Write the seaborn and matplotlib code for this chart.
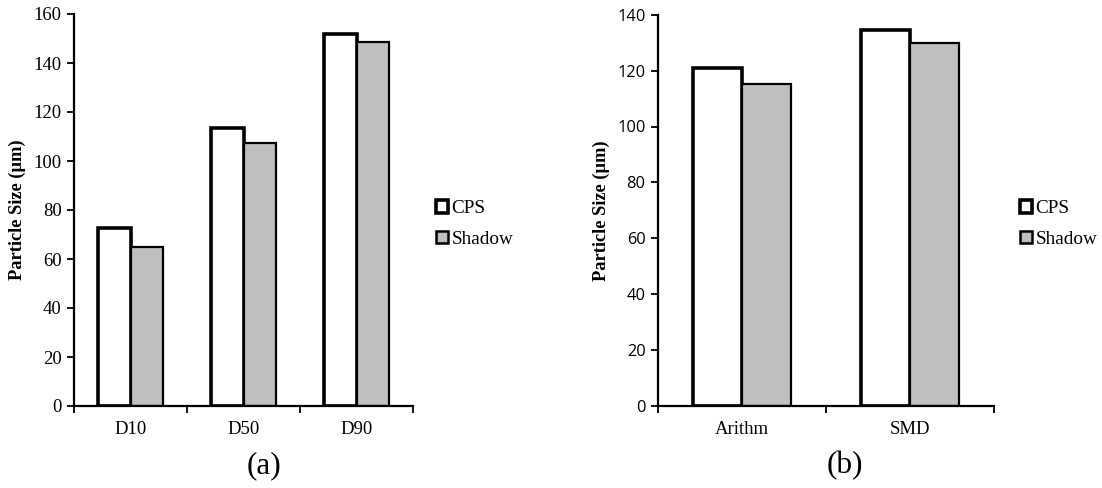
import matplotlib
matplotlib.use("Agg")
import matplotlib.pyplot as plt
import seaborn as sns
import pandas as pd
from matplotlib.patches import Patch
from matplotlib.ticker import FixedLocator

# Data
cats_a = ["D10", "D50", "D90"]
cps_a = [72.7, 113.6, 151.8]
shadow_a = [64.9, 107.2, 148.7]

cats_b = ["Arithm", "SMD"]
cps_b = [121.0, 134.5]
shadow_b = [115.3, 130.0]

series = ["CPS", "Shadow"]
colors = {"CPS": "#ffffff", "Shadow": "#bfbfbf"}

sns.set_theme(style="white")
plt.rcParams["font.family"] = ["Liberation Serif", "DejaVu Serif"]
plt.rcParams.update({"text.color": "black", "axes.labelcolor": "black",
                     "xtick.color": "black", "ytick.color": "black",
                     "axes.edgecolor": "black"})

fig = plt.figure(figsize=(11.02, 4.88), dpi=100)
W, H = 1102, 488

def make_df(cats, cps, sh):
    return pd.DataFrame({
        "cat": cats * 2,
        "val": list(cps) + list(sh),
        "series": ["CPS"] * len(cats) + ["Shadow"] * len(cats),
    })

def draw(ax, cats, cps, sh, width, ymax, ystep, ytickfont, ytfsize):
    df = make_df(cats, cps, sh)
    sns.barplot(data=df, x="cat", y="val", hue="series", order=cats,
                hue_order=series, palette=colors, width=width,
                edgecolor="black", linewidth=2.0, legend=False, ax=ax)
    n = len(cats)
    for i, p in enumerate(ax.patches[:2 * n]):
        if i < n:
            p.set_linewidth(2.6)
        else:
            p.set_linewidth(1.6)
    ax.set_xlim(-0.5, n - 0.5)
    ax.set_ylim(0, ymax)
    ax.set_yticks(range(0, ymax + 1, ystep))
    ax.set_yticklabels([str(v) for v in range(0, ymax + 1, ystep)],
                       fontfamily=ytickfont, fontsize=ytfsize, color="black")
    ax.xaxis.set_major_locator(FixedLocator([i - 0.5 for i in range(n + 1)]))
    ax.xaxis.set_minor_locator(FixedLocator(list(range(n))))
    ax.set_xticklabels([""] * (n + 1))
    ax.set_xticklabels(cats, minor=True, fontsize=13.5, color="black")
    ax.tick_params(axis="x", which="major", direction="out", length=5,
                   width=1.3, color="black", bottom=True)
    ax.tick_params(axis="x", which="minor", length=0, pad=11)
    ax.tick_params(axis="y", direction="out", length=5, width=1.3,
                   color="black", left=True, pad=4)
    ax.set_xlabel("")
    ax.set_ylabel("Particle Size (µm)", fontweight="bold", fontsize=13.2,
                  labelpad=5, color="black")
    for s in ["top", "right"]:
        ax.spines[s].set_visible(False)
    for s in ["left", "bottom"]:
        ax.spines[s].set_color("black")
        ax.spines[s].set_linewidth(1.6)
    ax.set_facecolor("white")

ax1 = fig.add_axes([74 / W, (H - 406) / H, (413 - 74) / W, (406 - 14) / H])
draw(ax1, cats_a, cps_a, shadow_a, 0.57, 160, 20, "Liberation Serif", 13.5)

ax2 = fig.add_axes([658 / W, (H - 406) / H, (994 - 658) / W, (406 - 14.7) / H])
draw(ax2, cats_b, cps_b, shadow_b, 0.58, 140, 20, "Open Sans", 11.8)

handles = [Patch(facecolor="white", edgecolor="black", linewidth=2.6, label="CPS"),
           Patch(facecolor="#bfbfbf", edgecolor="black", linewidth=1.8, label="Shadow")]
for lx in (436 / W, 1020 / W):
    leg = fig.legend(handles=handles, loc="upper left", bbox_to_anchor=(lx, (H - 200) / H),
                     frameon=False, fontsize=13.8, handlelength=0.65, handleheight=0.65,
                     handletextpad=0.15, labelspacing=0.7, borderaxespad=0, borderpad=0,
                     labelcolor="black")

fig.text(264 / W, (H - 466) / H, "(a)", ha="center", va="center", fontsize=22.5, color="black")
fig.text(845 / W, (H - 466) / H, "(b)", ha="center", va="center", fontsize=22.5, color="black")

fig.savefig("out.png", dpi=100, facecolor="white")
